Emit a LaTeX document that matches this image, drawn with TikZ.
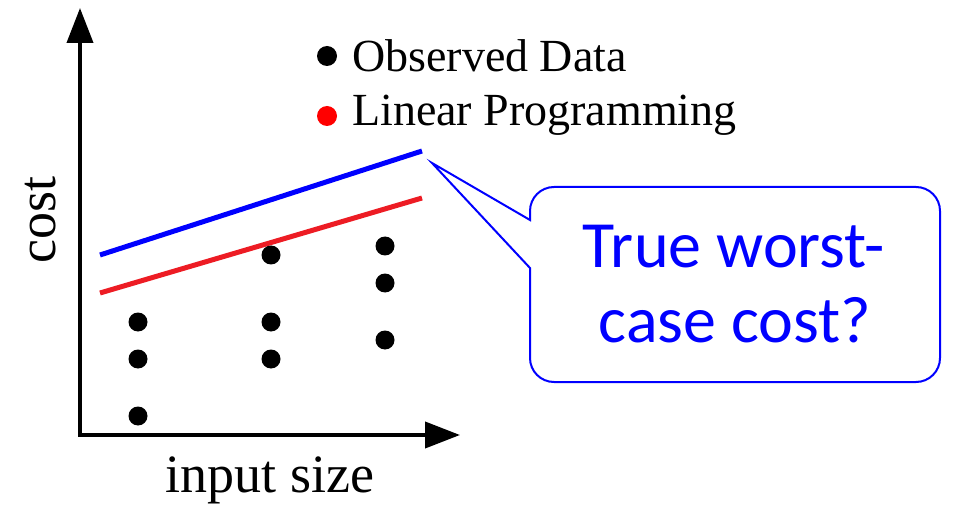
\documentclass[tikz,border=0pt]{standalone}
\usepackage{fontspec}
\setmainfont{Liberation Serif}
\newfontfamily\calloutfont{Carlito}
\usetikzlibrary{arrows.meta}
\definecolor{lpred}{RGB}{237,28,36}
\tikzset{
  datadot/.style={circle, fill=black, inner sep=0pt, minimum size=19pt},
  legdot/.style={circle, inner sep=0pt, minimum size=20pt},
  legtext/.style={anchor=base west, inner sep=0pt, font=\fontsize{46}{55}\selectfont},
  axislabel/.style={inner sep=0pt, font=\fontsize{54}{64}\selectfont},
  callouttext/.style={anchor=base, inner sep=0pt, text=blue, font=\calloutfont\fontsize{66}{75}\selectfont},
  axis/.style={line width=4pt, {Triangle[length=35pt,width=26pt]}-{Triangle[length=35pt,width=26pt]}},
  fitline/.style={line width=5pt}
}
\begin{document}
\begin{tikzpicture}[x=1pt,y=-1pt]
\useasboundingbox (0,0) rectangle (956,505);
% axes
\coordinate (ytip) at (80,8);
\coordinate (origin) at (80,435);
\coordinate (xtip) at (460,435);
\draw[axis] (ytip) -- (origin) -- (xtip);
\node[axislabel, anchor=base, rotate=90] (ylab) at (55,220) {cost};
\node[axislabel, anchor=base] (xlab) at (270,492) {input size};
% lines
\coordinate (b1) at (100,255);
\coordinate (b2) at (422,151);
\coordinate (r1) at (100,293);
\coordinate (r2) at (422,198);
\draw[fitline, blue] (b1) -- (b2);
\draw[fitline, lpred] (r1) -- (r2);
% data
\node[datadot] (d11) at (138,322) {};
\node[datadot] (d12) at (138,359) {};
\node[datadot] (d13) at (138,416) {};
\node[datadot] (d21) at (271,255) {};
\node[datadot] (d22) at (271,322) {};
\node[datadot] (d23) at (271,359) {};
\node[datadot] (d31) at (385,246) {};
\node[datadot] (d32) at (385,283) {};
\node[datadot] (d33) at (385,340) {};
% legend
\node[legdot, fill=black] (l1) at (327,56) {};
\node[legdot, fill=red] (l2) at (327,116) {};
\node[legtext] (t1) at (352,72) {Observed Data};
\node[legtext] (t2) at (352,126) {Linear Programming};
% callout
\coordinate (ptip) at (432,163);
\coordinate (pa) at (530,220);
\coordinate (pb) at (530,268);
\draw[blue, line width=2pt, line join=miter] (pb) [rounded corners=24pt] -- (530,382) -- (940,382) -- (940,187) -- (530,187) [sharp corners] -- (pa) -- (ptip) -- cycle;
\node[callouttext] (c1) at (734,267) {True worst-};
\node[callouttext] (c2) at (735,342) {case cost?};
\end{tikzpicture}
\end{document}
